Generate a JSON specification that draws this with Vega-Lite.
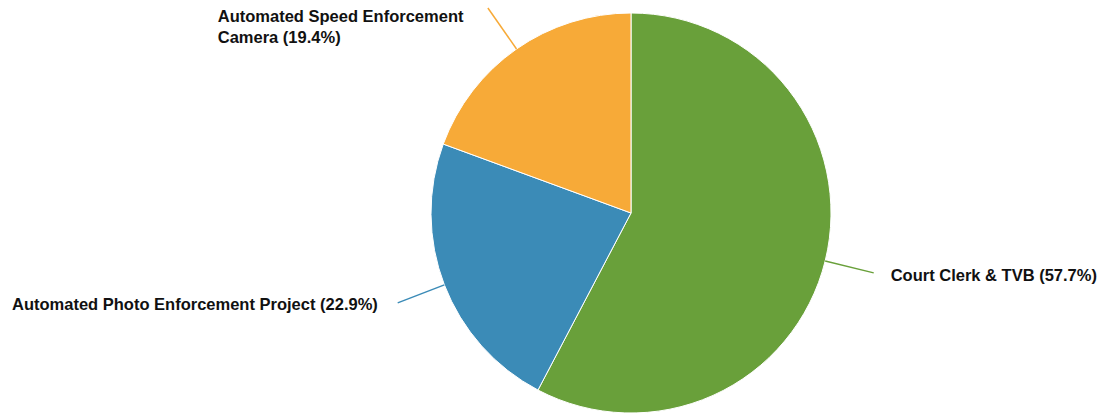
{
  "$schema": "https://vega.github.io/schema/vega-lite/v6.json",
  "width": 944,
  "height": 400,
  "autosize": {"type": "none"},
  "padding": {"left": 159, "top": 13, "right": 0, "bottom": 0},
  "background": "#ffffff",
  "config": {"view": {"stroke": null}},
  "data": {
    "values": [
      {"category": "Court Clerk & TVB", "share": 57.7, "label": "Court Clerk & TVB (57.7%)"},
      {"category": "Automated Photo Enforcement Project", "share": 22.9, "label": "Automated Photo Enforcement Project (22.9%)"},
      {"category": "Automated Speed Enforcement Camera", "share": 19.4, "label": "Automated Speed Enforcement\nCamera (19.4%)"}
    ]
  },
  "layer": [
    {
      "mark": {"type": "arc", "radius": 200, "stroke": "#ffffff", "strokeWidth": 1},
      "encoding": {
        "theta": {"field": "share", "type": "quantitative", "stack": true},
        "order": {"field": "share", "type": "quantitative", "sort": "descending"},
        "color": {
          "field": "category",
          "type": "nominal",
          "scale": {
            "domain": ["Court Clerk & TVB", "Automated Photo Enforcement Project", "Automated Speed Enforcement Camera"],
            "range": ["#69a03a", "#3b8bb7", "#f7aa38"]
          },
          "legend": null
        }
      }
    },
    {
      "transform": [
        {"window": [{"op": "sum", "field": "share", "as": "cum"}], "sort": [{"field": "share", "order": "descending"}], "frame": [null, 0]},
        {"joinaggregate": [{"op": "sum", "field": "share", "as": "total"}]}
      ],
      "mark": {"type": "rule", "strokeWidth": 1.5},
      "encoding": {
        "x": {"value": {"expr": "width/2 + 200*sin(2*PI*(datum.cum - datum.share/2)/datum.total)"}},
        "y": {"value": {"expr": "height/2 - 200*cos(2*PI*(datum.cum - datum.share/2)/datum.total)"}},
        "x2": {"value": {"expr": "width/2 + 250*sin(2*PI*(datum.cum - datum.share/2)/datum.total)"}},
        "y2": {"value": {"expr": "height/2 - 250*cos(2*PI*(datum.cum - datum.share/2)/datum.total)"}},
        "color": {"field": "category", "type": "nominal", "legend": null}
      }
    },
    {
      "mark": {"type": "text", "radius": 252, "align": "left", "baseline": "alphabetic", "dx": 15, "dy": 8, "fontSize": 16.5, "fontWeight": "bold", "font": "Liberation Sans", "color": "#111111"},
      "encoding": {
        "theta": {"field": "share", "type": "quantitative", "stack": true},
        "order": {"field": "share", "type": "quantitative", "sort": "descending"},
        "detail": {"field": "category", "type": "nominal"},
        "text": {"field": "label", "type": "nominal"},
        "opacity": {"condition": {"test": "datum.category === 'Court Clerk & TVB'", "value": 1}, "value": 0}
      }
    },
    {
      "mark": {"type": "text", "radius": 252, "align": "right", "baseline": "alphabetic", "dx": -18, "dy": 6, "fontSize": 16.5, "fontWeight": "bold", "font": "Liberation Sans", "color": "#111111"},
      "encoding": {
        "theta": {"field": "share", "type": "quantitative", "stack": true},
        "order": {"field": "share", "type": "quantitative", "sort": "descending"},
        "detail": {"field": "category", "type": "nominal"},
        "text": {"field": "label", "type": "nominal"},
        "opacity": {"condition": {"test": "datum.category === 'Automated Photo Enforcement Project'", "value": 1}, "value": 0}
      }
    },
    {
      "mark": {"type": "text", "radius": 252, "align": "left", "baseline": "alphabetic", "dx": -269, "dy": 16, "lineBreak": "\n", "lineHeight": 21, "fontSize": 16.5, "fontWeight": "bold", "font": "Liberation Sans", "color": "#111111"},
      "encoding": {
        "theta": {"field": "share", "type": "quantitative", "stack": true},
        "order": {"field": "share", "type": "quantitative", "sort": "descending"},
        "detail": {"field": "category", "type": "nominal"},
        "text": {"field": "label", "type": "nominal"},
        "opacity": {"condition": {"test": "datum.category === 'Automated Speed Enforcement Camera'", "value": 1}, "value": 0}
      }
    }
  ]
}
